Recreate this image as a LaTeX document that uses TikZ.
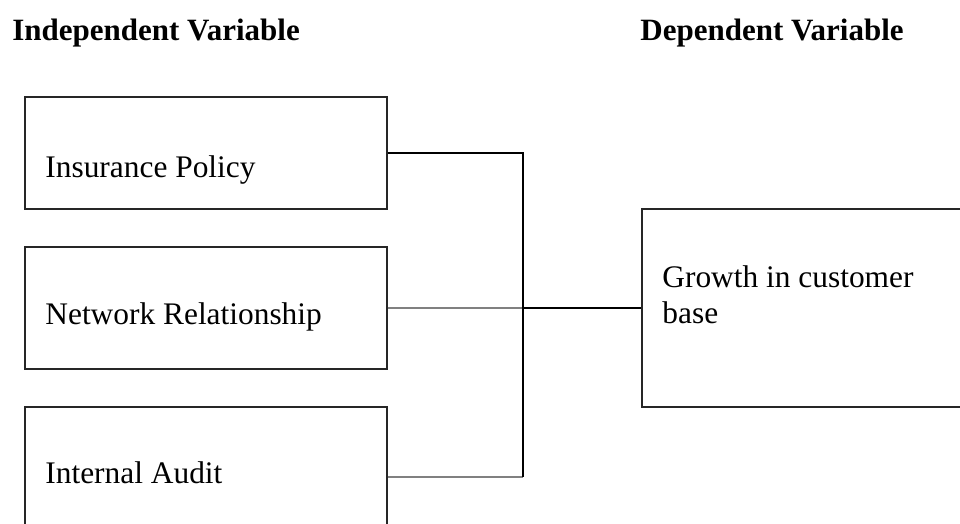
\documentclass[tikz,border=0pt]{standalone}
\usepackage{fontspec}
\setmainfont{Liberation Serif}
\usetikzlibrary{positioning}

\begin{document}
\begin{tikzpicture}[x=0.5pt,y=0.5pt,
  varbox/.style={draw=black!85,line width=0.65pt,minimum width=181pt,inner sep=0pt},
  lbl/.style={anchor=base west,inner sep=0pt,align=left,font=\fontsize{15.7}{18}\selectfont},
  head/.style={anchor=base west,inner sep=0pt,font=\fontsize{15.5}{18}\selectfont\bfseries},
  link/.style={black,line width=0.65pt},
  glink/.style={black!50,line width=1.2pt}
]
\useasboundingbox (0,0) rectangle (960,-524);
\clip (0,0) rectangle (960,-524);
% ---- titres ----
\node[head] (indep) at (12,-41) {Independent Variable};
\node[head] (dep) at (640,-41) {Dependent Variable};
% ---- boites ----
\node[varbox,minimum height=56pt] (ins) at (206,-153) {};
\node[varbox,minimum height=61pt] (net) at (206,-308) {};
\node[varbox,minimum height=70pt] (aud) at (206,-477) {};
\node[varbox,minimum width=165pt,minimum height=99pt] (grow) at (807,-308) {};
\node[lbl] (insT) at (45,-177) {Insurance Policy};
\node[lbl] (netT) at (45,-325) {Network Relationship};
\node[lbl] (audT) at (45,-483) {Internal Audit};
\node[lbl] (growT) at (662,-323) {Growth in customer\\base};
% ---- liaisons ----
\coordinate (joint) at (523,-305);
\coordinate (netend) at (535,-306);
\draw[glink] (aud.east) -- (joint |- aud.east);
\draw[glink] (net.east) -- (net.east -| netend);
\draw[link] (ins.east) -| (joint) -- (joint |- aud.east);
\draw[link] (joint |- grow.west) -- (grow.west);
\end{tikzpicture}
\end{document}
